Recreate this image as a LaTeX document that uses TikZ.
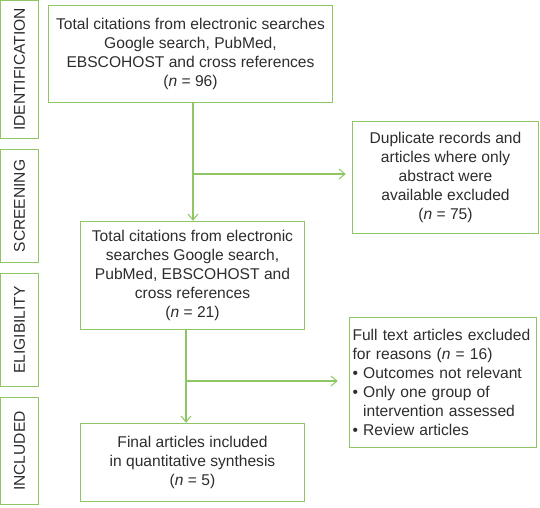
\documentclass[tikz,border=0pt]{standalone}
\usepackage{fontspec}
\setmainfont{Liberation Sans}
\usepackage{xcolor}
\usetikzlibrary{arrows.meta}

\definecolor{boxgreen}{RGB}{141,198,99}
\definecolor{txtgray}{RGB}{45,45,45}

\begin{document}
\begin{tikzpicture}[x=1pt,y=-1pt,
  every node/.style={text=txtgray,font=\fontsize{15.6}{19}\selectfont},
  stage/.style={draw=boxgreen,line width=1.5pt,inner sep=0pt,rotate=90,minimum height=38pt},
  block/.style={draw=boxgreen,line width=1.5pt,inner sep=5pt,align=center},
  flow/.style={draw=boxgreen,line width=1.5pt,-{Straight Barb[length=6pt,width=10pt,line width=1pt]}}]

\useasboundingbox (0,0) rectangle (540,507);

% phase labels
\node[stage,minimum width=138pt] (sid) at (19.5,69.5) {IDENTIFICATION};
\node[stage,minimum width=113pt] (sscr) at (19.5,206) {SCREENING};
\node[stage,minimum width=113pt] (selig) at (19.5,330) {ELIGIBILITY};
\node[stage,minimum width=107pt] (sincl) at (19.5,451) {INCLUDED};

% boxes
\node[block,minimum width=284pt,minimum height=97pt] (ident) at (190.5,54)
  {Total citations from electronic searches\\Google search, PubMed,\\EBSCOHOST and cross references\\(\textit{n} = 96)};
\node[block,minimum width=186pt,minimum height=112pt] (dup) at (445.5,177.5)
  {Duplicate records and\\articles where only\\abstract were\\available excluded\\(\textit{n} = 75)};
\node[block,minimum width=224pt,minimum height=108pt] (elig) at (192.5,275.5)
  {Total citations from electronic\\searches Google search,\\PubMed, EBSCOHOST and\\cross references\\(\textit{n} = 21)};
\node[block,align=left,inner xsep=3pt,text width=181pt,minimum height=130pt] (excl) at (443,382.5)
  {Full text articles excluded\\for reasons (\textit{n} = 16)\\\textbullet{} Outcomes not relevant\\\textbullet{} Only one group of\\\phantom{\textbullet{} }intervention assessed\\\textbullet{} Review articles};
\node[block,minimum width=224pt,minimum height=78pt] (final) at (192.5,462.5)
  {Final articles included\\in quantitative synthesis\\(\textit{n} = 5)};

% connectors
\coordinate (m1) at (193,174);
\coordinate (m2) at (186,381);
\draw[flow] (ident.south -| m1) -- (elig.north -| m1);
\draw[flow,shorten >=6pt] (m1) -- (m1 -| dup.west);
\draw[flow] (elig.south -| m2) -- (final.north -| m2);
\draw[flow,shorten >=11pt] (m2) -- (m2 -| excl.west);

\end{tikzpicture}
\end{document}
